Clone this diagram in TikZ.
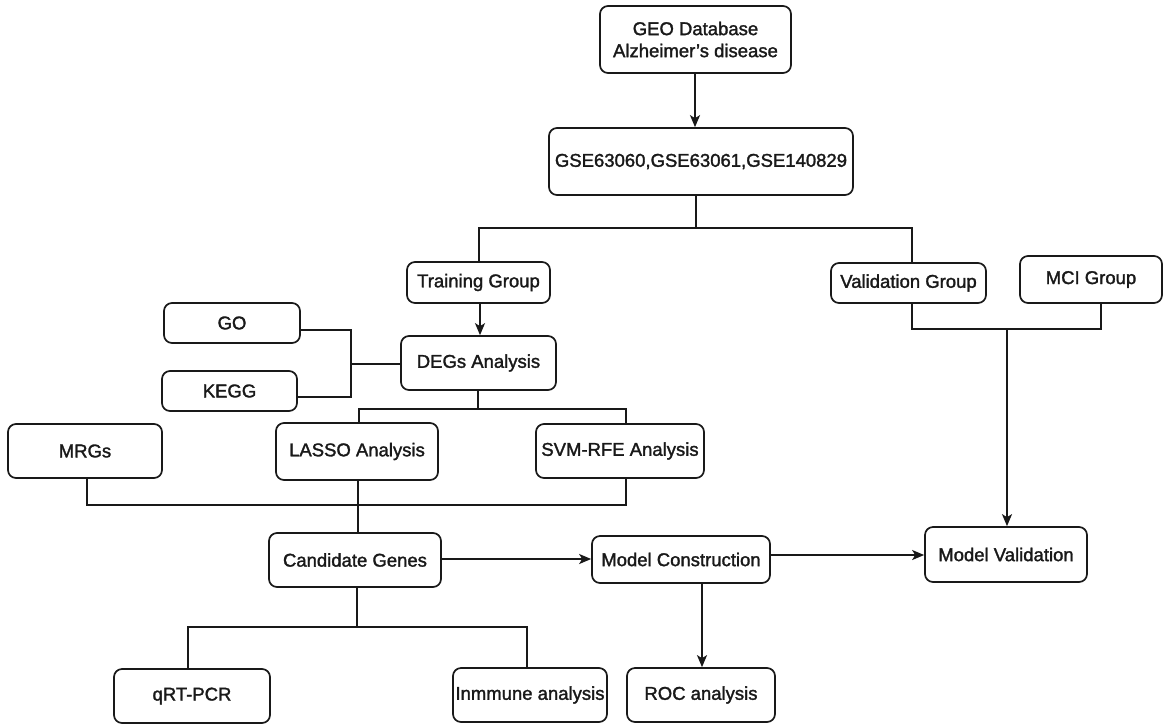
\documentclass[tikz,border=0pt]{standalone}
\usepackage{fontspec}
\setmainfont{Liberation Sans}[RawFeature={embolden=1.6}]
\usetikzlibrary{arrows.meta,calc}
\begin{document}
\begin{tikzpicture}[x=1pt,y=-1pt,
  box/.style={draw=black!90, line width=1.7pt, rounded corners=8pt, align=center,
    inner sep=0pt, font=\fontsize{18.5}{22}\selectfont, text=black!90},
  conn/.style={draw=black!90, line width=1.7pt},
  arr/.style={conn, -{Stealth[length=12pt,width=10pt,inset=3pt]}}]
\useasboundingbox (0,0) rectangle (1164,724);
\fill[white] (0,0) rectangle (1164,724);
% nodes
\node[box, minimum width=191pt, minimum height=67pt] (geo) at (695.5,39.5) {GEO Database\\Alzheimer’s disease};
\node[box, minimum width=304pt, minimum height=67pt] (gse) at (701,161.5) {GSE63060,GSE63061,GSE140829};
\node[box, minimum width=143pt, minimum height=41pt] (train) at (478.5,282.5) {Training Group};
\node[box, minimum width=155pt, minimum height=40pt] (valid) at (908.5,283) {Validation Group};
\node[box, minimum width=142pt, minimum height=47pt] (mci) at (1091,279.5) {MCI Group};
\node[box, minimum width=136pt, minimum height=40pt] (go) at (232,323) {GO};
\node[box, minimum width=135pt, minimum height=40pt] (kegg) at (229.5,391) {KEGG};
\node[box, minimum width=155pt, minimum height=54pt] (degs) at (478.5,363) {DEGs Analysis};
\node[box, minimum width=154pt, minimum height=54pt] (mrgs) at (85,451) {MRGs};
\node[box, minimum width=162pt, minimum height=57pt] (lasso) at (357,451.5) {LASSO Analysis};
\node[box, minimum width=168pt, minimum height=54pt] (svm) at (620,451) {SVM-RFE Analysis};
\node[box, minimum width=172pt, minimum height=54pt] (cand) at (355,560) {Candidate Genes};
\node[box, minimum width=178pt, minimum height=47pt] (mc) at (681,559.5) {Model Construction};
\node[box, minimum width=162pt, minimum height=55pt] (mv) at (1006,554.5) {Model Validation};
\node[box, minimum width=156pt, minimum height=54pt] (qrt) at (192,696) {qRT-PCR};
\node[box, minimum width=154pt, minimum height=54pt] (imm) at (530,695) {Inmmune analysis};
\node[box, minimum width=148pt, minimum height=54pt] (roc) at (701,695) {ROC analysis};
% junction coordinates
\coordinate (j1) at (696,228);
\coordinate (j2) at (351,364);
\coordinate (j3) at (478,409);
\coordinate (j4) at (358,505);
\coordinate (j5) at (357,627);
\coordinate (j6) at (1007,329);
% connectors
\draw[arr] (695,0 |- geo.south) -- (695,0 |- gse.north);
\draw[conn] (gse.south -| j1) -- (j1);
\draw[conn] (479,0 |- train.north) -- (479,228) -- (912,228) -- (912,0 |- valid.north);
\draw[arr] (480,0 |- train.south) -- (480,0 |- degs.north);
\draw[conn] ([yshift=-7pt]go.east) -- (351,330) -- (351,397) -- ([yshift=-6pt]kegg.east);
\draw[conn] (j2) -- (degs.west |- j2);
\draw[conn] (j3 |- degs.south) -- (j3);
\draw[conn] (359,0 |- lasso.north) -- (359,409) -- (626,409) -- (626,0 |- svm.north);
\draw[conn] (87,0 |- mrgs.south) -- (87,505) -- (626,505) -- (626,0 |- svm.south);
\draw[conn] (j4 |- lasso.south) -- (j4 |- cand.north);
\draw[arr] (cand.east |- 0,559) -- (mc.west |- 0,559);
\draw[arr] (mc.east |- 0,555) -- (mv.west |- 0,555);
\draw[arr] (702,0 |- mc.south) -- (702,0 |- roc.north);
\draw[conn] (j5 |- cand.south) -- (j5);
\draw[conn] (188,0 |- qrt.north) -- (188,627) -- (527,627) -- (527,0 |- imm.north);
\draw[conn] (912,0 |- valid.south) -- (912,329) -- (1101,329) -- (1101,0 |- mci.south);
\draw[arr] (j6) -- (j6 |- mv.north);
\end{tikzpicture}
\end{document}
